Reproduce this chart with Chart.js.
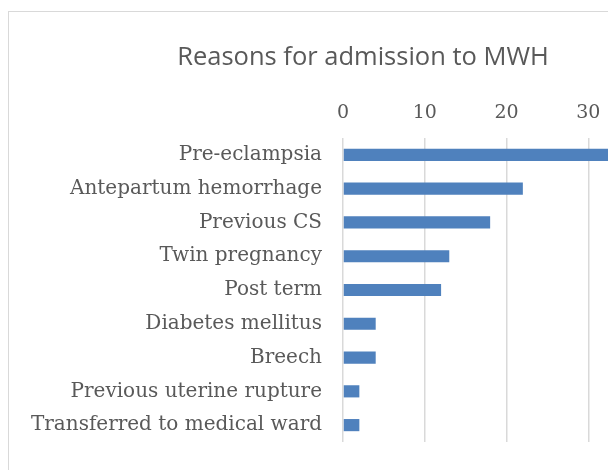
<!DOCTYPE html>
<html>
<head>
<meta charset="utf-8">
<script src="https://cdn.jsdelivr.net/npm/chart.js@4/dist/chart.umd.min.js"></script>
<style>
    html, body { margin: 0; padding: 0; background: #fff; overflow: hidden; }
    body { width: 608px; height: 470px; position: relative; }
    #frame {
        position: absolute; left: 8px; top: 11px;
        border: 1px solid #d9d9d9;
        width: 708px; height: 480px;
    }
</style>
</head>
<body>
<div id="frame"><canvas id="admissionChart" width="708" height="480"></canvas></div>
<script>
// ---------- DATA ----------
const reasons = [
    "Pre-eclampsia",
    "Antepartum hemorrhage",
    "Previous CS",
    "Twin pregnancy",
    "Post term",
    "Diabetes mellitus",
    "Breech",
    "Previous uterine rupture",
    "Transferred to medical ward"
];
const admissions = [36, 22, 18, 13, 12, 4, 4, 2, 2];
const xTicks = [0, 10, 20, 30, 40];

const textColor = "#595959";
const gridColor = "#d9d9d9";

// ---------- CHART ----------
const canvas = document.getElementById("admissionChart");

new Chart(canvas, {
    type: "bar",
    data: {
        labels: reasons,
        datasets: [{
            data: admissions,
            backgroundColor: "#4f81bd",
            barPercentage: 0.36,
            categoryPercentage: 1
        }]
    },
    options: {
        indexAxis: "y",
        responsive: false,
        animation: false,
        layout: { padding: { left: 0, right: 0, top: 0, bottom: 50 } },
        plugins: {
            legend: { display: false },
            tooltip: { enabled: false },
            title: {
                display: true,
                text: "Reasons for admission to MWH",
                color: textColor,
                font: { family: "'Open Sans', sans-serif", size: 25.5, weight: "normal" },
                padding: { top: 30, bottom: 14.6 }
            }
        },
        scales: {
            x: {
                position: "top",
                min: xTicks[0],
                max: xTicks[xTicks.length - 1],
                afterBuildTicks(scale) {
                    scale.ticks = xTicks.map(v => ({ value: v }));
                },
                border: { display: false },
                grid: { color: gridColor, lineWidth: 1.5, drawTicks: false },
                ticks: {
                    color: textColor,
                    padding: 14,
                    font: { family: "'DejaVu Serif', serif", size: 19 }
                }
            },
            y: {
                border: { display: false },
                grid: { display: false, drawTicks: false, tickLength: 0 },
                afterFit(scale) { scale.width = 334; },
                ticks: {
                    color: textColor,
                    padding: 21,
                    font: { family: "'DejaVu Serif', serif", size: 20 }
                }
            },
            // empty right-hand spacer so the title stays centred on the whole frame
            spacer: {
                type: "category",
                position: "right",
                labels: [""],
                border: { display: false },
                grid: { display: false, drawTicks: false },
                ticks: { display: false },
                afterFit(scale) { scale.width = 47; }
            }
        }
    }
});
</script>
</body>
</html>
